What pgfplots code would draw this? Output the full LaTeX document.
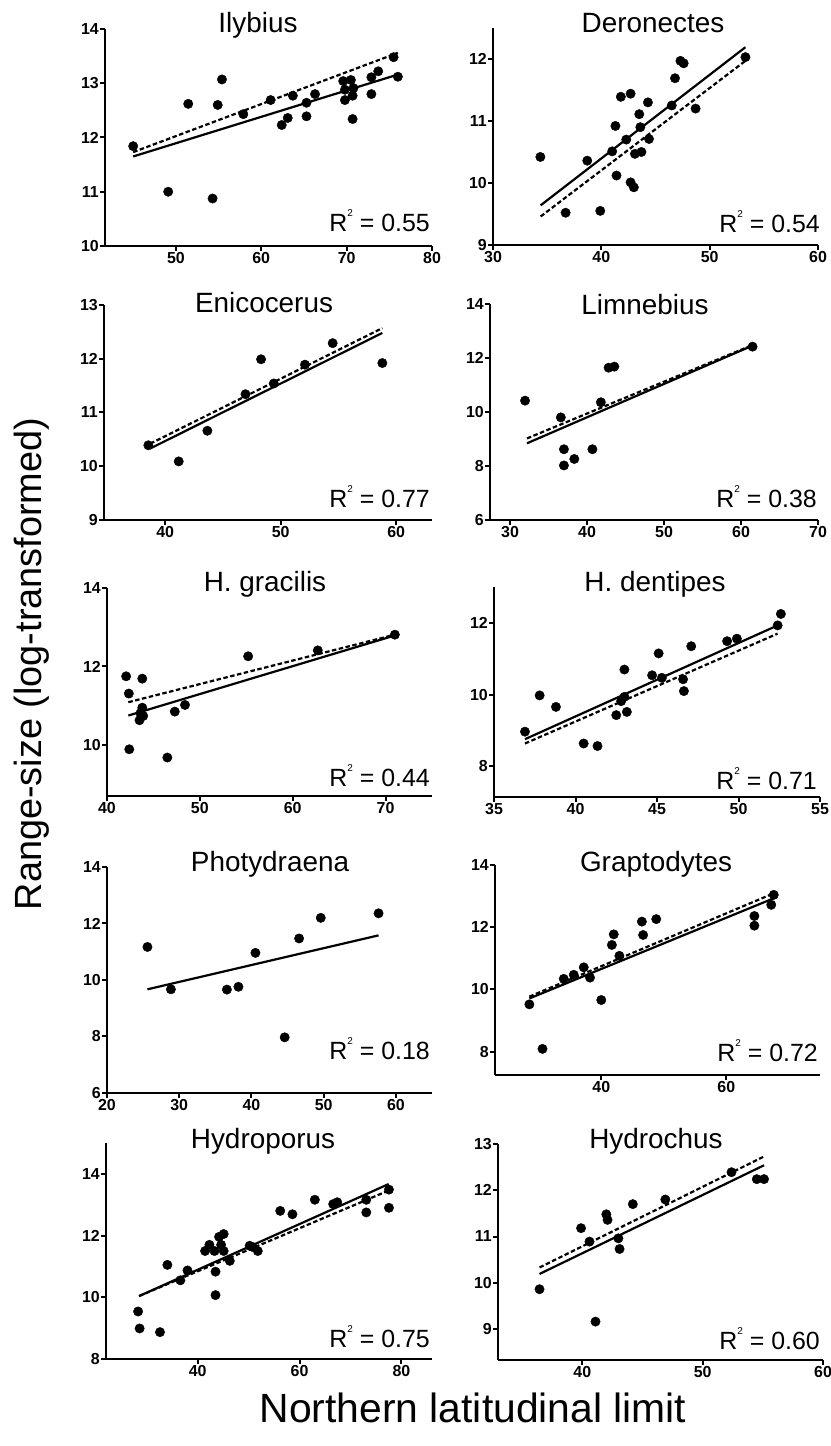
\documentclass[border=0pt]{standalone}
\usepackage{fontspec}
\setmainfont{Liberation Sans}
\usepackage{pgfplots}
\pgfplotsset{compat=1.18}

\pgfplotsset{
  panel/.style={
    scale only axis, anchor=south west, clip=false,
    axis x line*=bottom, axis y line*=left,
    axis line style={line width=2.7bp,-},
    tick style={line width=2bp,black}, major tick length=5bp, tick align=outside,
    tick label style={font=\fontsize{16}{17}\selectfont\bfseries},
    /pgf/number format/assume math mode=true,
    xticklabel style={inner sep=1bp},
    yticklabel style={inner sep=1bp},
  },
  pts/.style={only marks, mark=*, mark size=4.7bp, black},
  fit/.style={no markers, line width=2.2bp, black},
  fitd/.style={no markers, line width=2.2bp, black, dash pattern=on 4.5bp off 2.5bp},
}
\newcommand{\ttl}[1]{\fontsize{28}{30}\selectfont #1}
\newcommand{\rsq}[1]{\fontsize{25}{26}\selectfont R\raisebox{1.15ex}{\fontsize{10}{10}\selectfont 2} = #1}

\begin{document}
\begin{tikzpicture}
\path[use as bounding box] (0,0) rectangle (831bp,1446bp);

% Ilybius
\begin{axis}[panel, at={(105bp,1200bp)}, width=327bp, height=217bp,
  xmin=41.7, xmax=80, ymin=10, ymax=14, xtick={50,60,70,80}, ytick={10,11,12,13,14}]
\addplot[pts] coordinates {(45.0,11.84)(49.1,11.0)(51.45,12.62)(54.9,12.60)(55.4,13.07)(54.3,10.875)(57.9,12.43)(61.1,12.69)(62.4,12.23)(63.1,12.36)(63.7,12.77)(65.3,12.64)(65.3,12.39)(66.3,12.80)(69.6,13.04)(69.8,12.69)(69.8,12.88)(70.5,13.06)(70.7,12.77)(70.8,12.91)(70.7,12.34)(72.9,13.11)(73.7,13.22)(72.9,12.80)(75.5,13.48)(76.0,13.12)};
\addplot[fit] coordinates {(45,11.65)(76,13.16)};
\addplot[fitd] coordinates {(45,11.73)(76,13.56)};
\end{axis}

% Deronectes
\begin{axis}[panel, at={(493bp,1201bp)}, width=325bp, height=217bp,
  xmin=30, xmax=60, ymin=9, ymax=12.5, xtick={30,40,50,60}, ytick={9,10,11,12}]
\addplot[pts] coordinates {(34.37,10.42)(36.7,9.52)(38.7,10.36)(39.9,9.55)(41.0,10.51)(41.3,10.92)(41.4,10.12)(41.8,11.39)(42.3,10.70)(42.7,11.44)(42.7,10.01)(43.0,9.93)(43.1,10.47)(43.5,11.11)(43.6,10.90)(43.7,10.50)(44.3,11.30)(44.4,10.71)(46.5,11.25)(46.8,11.69)(47.3,11.97)(47.6,11.93)(48.7,11.20)(53.3,12.03)};
\addplot[fit] coordinates {(34.4,9.64)(53.3,12.19)};
\addplot[fitd] coordinates {(34.4,9.46)(53.3,11.97)};
\end{axis}

% Enicocerus
\begin{axis}[panel, at={(104bp,926bp)}, width=328bp, height=215bp,
  xmin=34.7, xmax=63.1, ymin=9, ymax=13, xtick={40,50,60}, ytick={9,10,11,12,13}]
\addplot[pts] coordinates {(38.54,10.39)(41.17,10.09)(43.65,10.66)(46.95,11.34)(48.3,11.99)(49.4,11.54)(52.1,11.89)(54.5,12.29)(58.8,11.92)};
\addplot[fit] coordinates {(38.7,10.33)(58.8,12.48)};
\addplot[fitd] coordinates {(38.7,10.42)(58.8,12.57)};
\end{axis}

% Limnebius
\begin{axis}[panel, at={(490bp,926bp)}, width=328bp, height=216bp,
  xmin=27.4, xmax=70, ymin=6, ymax=14, xtick={30,40,50,60,70}, ytick={6,8,10,12,14}]
\addplot[pts] coordinates {(31.95,10.42)(36.6,9.80)(37.0,8.62)(37.0,8.02)(38.35,8.26)(40.7,8.62)(41.8,10.36)(42.8,11.64)(43.55,11.68)(61.5,12.42)};
\addplot[fit] coordinates {(32.2,8.84)(61.5,12.46)};
\addplot[fitd] coordinates {(32.2,9.02)(61.5,12.48)};
\end{axis}

% H. gracilis
\begin{axis}[panel, at={(107bp,650bp)}, width=325bp, height=208bp,
  xmin=40, xmax=75, ymin=8.7, ymax=14, xtick={40,50,60,70}, ytick={10,12,14}]
\addplot[pts] coordinates {(42.06,11.75)(42.35,11.31)(42.4,9.89)(43.8,11.69)(43.5,10.63)(43.6,10.81)(43.8,10.95)(43.9,10.74)(46.5,9.68)(47.3,10.85)(48.4,11.02)(55.2,12.26)(62.7,12.41)(71.0,12.81)};
\addplot[fit] coordinates {(42.3,10.75)(71,12.79)};
\addplot[fitd] coordinates {(42.3,11.09)(71,12.81)};
\end{axis}

% H. dentipes
\begin{axis}[panel, at={(494bp,649bp)}, width=326bp, height=210bp,
  xmin=35, xmax=55, ymin=7.15, ymax=13, xtick={35,40,45,50,55}, ytick={8,10,12}]
\addplot[pts] coordinates {(36.9,8.97)(37.8,9.98)(38.8,9.66)(40.5,8.64)(41.35,8.57)(42.5,9.43)(42.8,9.82)(43.0,9.94)(43.15,9.52)(43.0,10.70)(44.7,10.54)(45.1,11.15)(45.3,10.47)(46.6,10.43)(46.65,10.10)(47.1,11.35)(49.3,11.49)(49.9,11.56)(52.4,11.93)(52.6,12.25)};
\addplot[fit] coordinates {(36.9,8.76)(52.4,11.93)};
\addplot[fitd] coordinates {(36.9,8.64)(52.4,11.70)};
\end{axis}

% Photydraena
\begin{axis}[panel, at={(107bp,353bp)}, width=325bp, height=226bp,
  xmin=20, xmax=65, ymin=6, ymax=14, xtick={20,30,40,50,60}, ytick={6,8,10,12,14}]
\addplot[pts] coordinates {(25.6,11.17)(28.85,9.67)(36.6,9.66)(38.2,9.76)(40.55,10.96)(44.6,7.97)(46.6,11.47)(49.6,12.20)(57.6,12.36)};
\addplot[fit] coordinates {(25.6,9.67)(57.6,11.58)};
\end{axis}

% Graptodytes
\begin{axis}[panel, at={(495bp,371bp)}, width=325bp, height=210bp,
  xmin=23, xmax=75, ymin=7.25, ymax=14, xtick={40,60}, ytick={8,10,12,14}]
\addplot[pts] coordinates {(28.5,9.52)(30.6,8.09)(34.0,10.34)(35.6,10.47)(37.2,10.71)(38.2,10.38)(40.0,9.66)(41.7,11.43)(42.0,11.77)(42.9,11.08)(46.5,12.18)(46.7,11.75)(48.8,12.26)(64.5,12.36)(64.5,12.05)(67.2,12.72)(67.6,13.04)};
\addplot[fit] coordinates {(28.5,9.71)(67.6,12.93)};
\addplot[fitd] coordinates {(28.5,9.77)(67.6,13.09)};
\end{axis}

% Hydroporus
\begin{axis}[panel, at={(106bp,87bp)}, width=326bp, height=216bp,
  xmin=22, xmax=86, ymin=8, ymax=15, xtick={40,60,80}, ytick={8,10,12,14}]
\addplot[pts] coordinates {(28.3,9.54)(28.6,8.99)(32.6,8.87)(34.05,11.05)(36.6,10.55)(38.0,10.87)(41.45,11.50)(42.3,11.70)(43.3,11.50)(43.5,10.83)(43.5,10.07)(44.2,11.96)(45.1,12.05)(45.1,11.50)(44.6,11.70)(46.3,11.18)(50.2,11.67)(51.8,11.50)(50.8,11.63)(56.2,12.80)(58.6,12.69)(63.0,13.16)(66.6,13.02)(67.4,13.08)(73.1,13.16)(73.1,12.75)(77.55,13.49)(77.55,12.90)};
\addplot[fit] coordinates {(28.5,10.04)(77.5,13.67)};
\addplot[fitd] coordinates {(28.5,10.04)(77.5,13.46)};
\end{axis}

% Hydrochus
\begin{axis}[panel, at={(498bp,86bp)}, width=325bp, height=216bp,
  xmin=33, xmax=60, ymin=8.33, ymax=13, xtick={40,50,60}, ytick={9,10,11,12,13}]
\addplot[pts] coordinates {(36.45,9.86)(39.9,11.18)(40.6,10.89)(41.1,9.16)(42.0,11.48)(42.1,11.36)(43.0,10.96)(43.1,10.73)(44.2,11.70)(46.9,11.80)(52.4,12.39)(54.5,12.24)(55.1,12.24)};
\addplot[fit] coordinates {(36.45,10.19)(55.1,12.54)};
\addplot[fitd] coordinates {(36.45,10.33)(55.1,12.73)};
\end{axis}

% titles
\node[anchor=base] at (258bp,1413bp) {\ttl{Ilybius}};
\node[anchor=base] at (653bp,1413bp) {\ttl{Deronectes}};
\node[anchor=base] at (264bp,1133bp) {\ttl{Enicocerus}};
\node[anchor=base] at (645bp,1131bp) {\ttl{Limnebius}};
\node[anchor=base] at (265bp,854bp) {\ttl{H. gracilis}};
\node[anchor=base] at (655bp,854bp) {\ttl{H. dentipes}};
\node[anchor=base] at (270bp,574bp) {\ttl{Photydraena}};
\node[anchor=base] at (656bp,574bp) {\ttl{Graptodytes}};
\node[anchor=base] at (263bp,297bp) {\ttl{Hydroporus}};
\node[anchor=base] at (656bp,297bp) {\ttl{Hydrochus}};

% R^2 labels
\node[anchor=base east, inner sep=0pt] at (430bp,1214bp) {\rsq{0.55}};
\node[anchor=base east, inner sep=0pt] at (820bp,1213bp) {\rsq{0.54}};
\node[anchor=base east, inner sep=0pt] at (430bp,938bp) {\rsq{0.77}};
\node[anchor=base east, inner sep=0pt] at (817bp,938bp) {\rsq{0.38}};
\node[anchor=base east, inner sep=0pt] at (430bp,659bp) {\rsq{0.44}};
\node[anchor=base east, inner sep=0pt] at (817bp,656bp) {\rsq{0.71}};
\node[anchor=base east, inner sep=0pt] at (430bp,386bp) {\rsq{0.18}};
\node[anchor=base east, inner sep=0pt] at (818bp,384bp) {\rsq{0.72}};
\node[anchor=base east, inner sep=0pt] at (430bp,98bp) {\rsq{0.75}};
\node[anchor=base east, inner sep=0pt] at (820bp,96bp) {\rsq{0.60}};

% axis titles
\node[rotate=90, anchor=base, inner sep=0pt] at (41bp,782bp) {\fontsize{38}{40}\selectfont Range-size (log-transformed)};
\node[anchor=base, inner sep=0pt] at (473bp,24bp) {\fontsize{41}{44}\selectfont Northern latitudinal limit};
\end{tikzpicture}
\end{document}
